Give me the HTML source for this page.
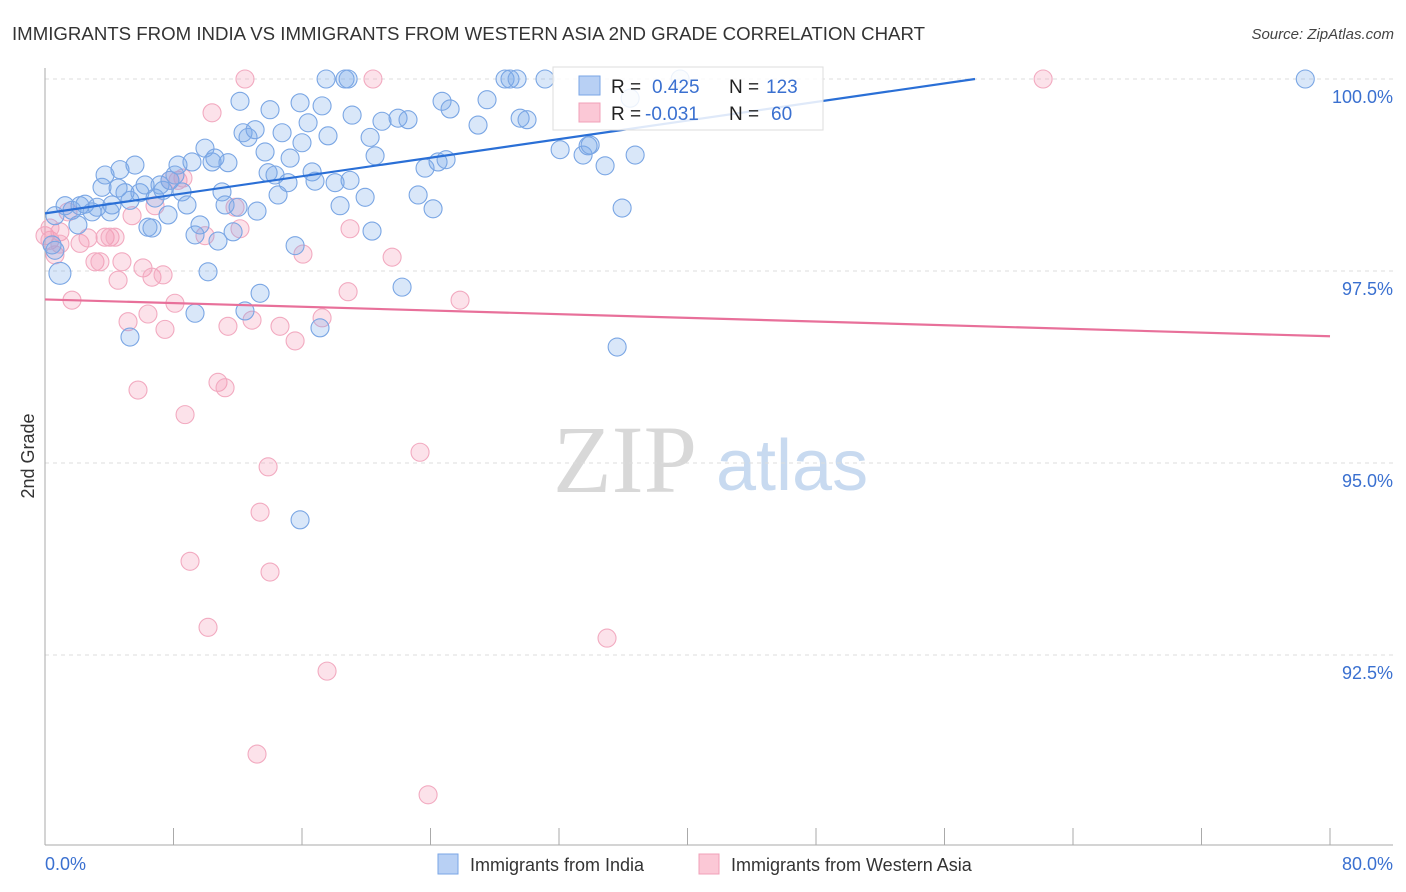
<!DOCTYPE html>
<html><head><meta charset="utf-8"><style>
body{margin:0;background:#fff;font-family:"Liberation Sans",sans-serif;}
#wrap{position:relative;width:1406px;height:892px;overflow:hidden;}
</style></head><body>
<div id="wrap">
<svg id="svg" width="1406" height="892" xmlns="http://www.w3.org/2000/svg">
<text x="12" y="40" font-size="18" fill="#333" textLength="913" lengthAdjust="spacingAndGlyphs">IMMIGRANTS FROM INDIA VS IMMIGRANTS FROM WESTERN ASIA 2ND GRADE CORRELATION CHART</text>
<text x="1394" y="39" font-size="15" fill="#444" font-style="italic" text-anchor="end">Source: ZipAtlas.com</text>
<text x="34" y="456" font-size="18" fill="#333" text-anchor="middle" transform="rotate(-90 34 456)">2nd Grade</text>
<g>
<text x="553" y="492" font-size="96" fill="#d8d8d8" font-family="Liberation Serif,serif">ZIP</text>
<text x="716" y="490" font-size="72" fill="#c8daf0">atlas</text>
</g>
<g id="grid"></g><g id="axes"></g><g id="pts"></g><g id="lines"></g>
<g>
<rect x="553" y="67" width="270" height="63" fill="#fff" fill-opacity="0.85" stroke="#ddd"/>
<rect x="579" y="76" width="21" height="19" fill="#b8d0f4" stroke="#7aa6e6"/>
<rect x="579" y="103" width="21" height="19" fill="#fbc8d6" stroke="#f0a0b8"/>
<text x="611" y="93" font-size="19" fill="#222">R = <tspan fill="#3a70d0" x="652">0.425</tspan><tspan x="729" fill="#222">N = </tspan><tspan fill="#3a70d0" x="766">123</tspan></text>
<text x="611" y="120" font-size="19" fill="#222">R = <tspan fill="#3a70d0" x="645">-0.031</tspan><tspan x="729" fill="#222">N = </tspan><tspan fill="#3a70d0" x="771">60</tspan></text>
</g>
<g>
<rect x="438" y="854" width="20" height="20" fill="#b8d0f4" stroke="#7aa6e6"/>
<text x="470" y="871" font-size="18" fill="#333">Immigrants from India</text>
<rect x="699" y="854" width="20" height="20" fill="#fbc8d6" stroke="#f0a0b8"/>
<text x="731" y="871" font-size="18" fill="#333">Immigrants from Western Asia</text>
</g>
</svg>
</div>
<script>
const yTicks=[100,97.5,95,92.5];
const yTickLabels=["100.0%","97.5%","95.0%","92.5%"];
const xTicks=[0,8,16,24,32,40,48,56,64,72,80];
const xTickLabels=["0.0%","80.0%"];
const indiaX=[0.93,0.44,0.62,1.25,1.68,2.05,2.18,2.49,2.93,3.24,3.55,3.74,4.05,4.17,4.55,4.67,4.98,5.29,5.60,5.29,5.91,6.23,6.41,6.66,6.85,7.16,7.35,7.66,7.78,8.09,8.28,8.53,8.84,9.15,9.34,9.34,9.65,9.96,10.15,10.40,10.58,10.77,11.02,11.21,11.39,11.71,12.02,12.14,12.33,12.64,13.08,13.20,13.39,12.45,13.70,13.89,14.01,14.32,14.51,14.76,15.13,15.26,15.57,15.88,16.00,15.88,16.38,16.63,16.81,17.12,17.25,17.62,17.50,18.06,18.37,18.68,18.87,18.99,19.12,19.93,20.24,20.36,20.55,20.98,21.98,22.60,22.23,23.23,23.66,24.16,24.47,24.72,24.97,25.22,26.96,27.52,28.64,28.95,29.39,29.58,30.01,31.13,32.07,33.50,33.81,33.94,34.87,35.62,35.93,36.74,36.43,39.54,78.46,0.62];
const indiaY=[97.47,97.84,98.22,98.35,98.29,98.10,98.35,98.37,98.27,98.33,98.59,98.75,98.27,98.36,98.58,98.82,98.52,98.42,98.88,96.64,98.52,98.62,98.07,98.06,98.45,98.62,98.55,98.23,98.68,98.75,98.88,98.53,98.36,98.92,97.97,96.95,98.10,99.10,97.49,98.92,98.97,97.89,98.53,98.36,98.91,98.01,98.33,99.71,99.30,99.24,99.34,98.28,97.21,96.98,99.05,98.78,99.60,98.75,98.49,99.30,98.65,98.97,97.83,99.69,99.17,94.26,99.43,98.79,98.67,96.76,99.65,99.26,100,98.65,98.35,100,100,98.68,99.53,98.46,99.24,98.02,99.00,99.45,99.49,99.47,97.29,98.49,98.84,98.31,98.92,99.71,98.95,99.61,99.40,99.73,100,100,100,99.49,99.47,100,99.08,99.01,99.13,99.14,98.87,96.51,98.32,99.01,99.75,100,100,97.77];
const wasiaX=[0,0.31,0.62,0.93,1.43,1.68,2.18,2.68,3.11,3.42,3.74,4.05,4.36,4.55,4.79,5.17,5.42,5.79,6.10,6.41,6.66,6.85,7.35,7.47,8.09,8.28,8.59,8.72,9.03,9.96,10.15,10.40,10.77,11.21,11.39,11.83,12.14,12.45,12.89,13.20,13.39,13.89,14.01,14.63,15.57,16.06,17.25,17.56,18.87,18.99,20.42,21.61,23.35,23.85,25.84,34.99,62.14,7.78,0.93,0.31];
const wasiaY=[97.96,97.90,97.71,98.01,98.27,97.12,97.86,97.93,97.62,97.62,97.94,97.94,97.94,97.38,97.62,96.84,98.22,95.95,97.54,96.94,97.42,98.35,97.45,96.74,97.08,98.68,98.71,95.63,93.72,97.96,92.86,99.56,96.05,95.98,96.78,98.33,98.05,100,96.86,91.21,94.36,94.95,93.58,96.78,96.59,97.72,96.89,92.29,97.23,98.05,100,97.68,95.14,90.68,97.12,92.72,100,98.68,97.85,98.06];
const indiaTrendX=[0,57.9];
const indiaTrendY=[98.25,100];
const wasiaTrendX=[0,80];
const wasiaTrendY=[97.13,96.65];

const NS="http://www.w3.org/2000/svg";
function xs(v){return 45+v/80*1285;}
function ys(v){return 79+(100-v)/2.5*192;}
function mk(tag,attrs,parent){const e=document.createElementNS(NS,tag);for(const k in attrs)e.setAttribute(k,attrs[k]);parent.appendChild(e);return e;}
const grid=document.getElementById('grid'),axes=document.getElementById('axes'),pts=document.getElementById('pts'),lines=document.getElementById('lines');
yTicks.forEach((t,i)=>{
 const l=mk('line',{x1:45,x2:1393,y1:ys(t),y2:ys(t),stroke:'#ddd','stroke-dasharray':'4,4'},grid);
 
 
 const tx=mk('text',{x:1393,y:ys(t)+24,'font-size':18,fill:'#3a70d0','text-anchor':'end'},axes);
 tx.textContent=yTickLabels[i];
 
 
});
const ya=mk('line',{x1:45,x2:45,y1:68,y2:845,stroke:'#aaa'},axes);


const xa=mk('line',{x1:45,x2:1393,y1:845,y2:845,stroke:'#aaa'},axes);


xTicks.forEach(t=>{
 const l=mk('line',{x1:xs(t),x2:xs(t),y1:828,y2:845,stroke:'#aaa'},axes);
 
 
});
const xl0=mk('text',{x:45,y:870,'font-size':18,fill:'#3a70d0'},axes);
xl0.textContent=xTickLabels[0];


const xl1=mk('text',{x:1393,y:870,'font-size':18,fill:'#3a70d0','text-anchor':'end'},axes);
xl1.textContent=xTickLabels[1];


wasiaX.forEach((v,i)=>{
 const c=mk('circle',{cx:xs(v),cy:ys(wasiaY[i]),r:9,fill:'rgba(244,150,178,0.28)',stroke:'#f2aac0','stroke-width':1.1},pts);
 
 
});
indiaX.forEach((v,i)=>{
 const c=mk('circle',{cx:xs(v),cy:ys(indiaY[i]),r:i===0?11:9,fill:'rgba(120,168,235,0.28)',stroke:'#7aa6e4','stroke-width':1.1},pts);
 
 
});
const tl1=mk('line',{x1:xs(indiaTrendX[0]),y1:ys(indiaTrendY[0]),x2:xs(indiaTrendX[1]),y2:ys(indiaTrendY[1]),stroke:'#2a6fd6','stroke-width':2.2},lines);


const tl2=mk('line',{x1:xs(wasiaTrendX[0]),y1:ys(wasiaTrendY[0]),x2:xs(wasiaTrendX[1]),y2:ys(wasiaTrendY[1]),stroke:'#e8709a','stroke-width':2.2},lines);


</script>
</body></html>
